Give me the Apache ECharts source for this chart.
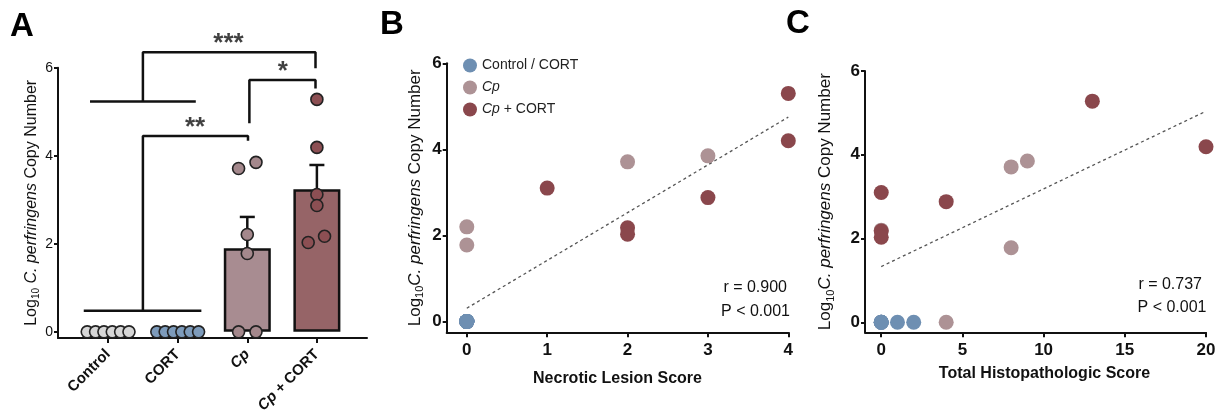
<!DOCTYPE html>
<html>
<head>
<meta charset="utf-8">
<script src="https://cdn.jsdelivr.net/npm/echarts@6/dist/echarts.min.js"></script>
<style>
html,body{margin:0;padding:0;background:#fff;}
#chart{width:1221px;height:414px;}
</style>
</head>
<body>
<div id="chart"></div>
<script>
// ---------- Panel A data ----------
const groupsA = ['Control', 'CORT', 'Cp', 'Cp + CORT'];
const controlA = [0, 0, 0, 0, 0, 0];
const cortA = [0, 0, 0, 0, 0, 0];
const cpA = [3.71, 3.85, 2.21, 1.78, 0, 0];
const cpCortA = [5.28, 4.19, 3.12, 2.87, 2.03, 2.17];
const jitterCtrl = [-0.3, -0.18, -0.06, 0.06, 0.18, 0.3];
const jitterCp = [-0.125, 0.125, 0, 0, -0.125, 0.125];
const jitterCpCort = [0, 0, 0, 0, -0.125, 0.11];
const barMeans = [1.9, 3.24];      // Cp, Cp + CORT
const barUpper = [2.61, 3.79];     // mean + SEM
// significance brackets (data coordinates of panel A)
const brackets = [
  [[-0.35, 0.48], [1.34, 0.48]],
  [[0.5, 0.48], [0.5, 4.45], [2.01, 4.45], [2.01, 4.34]],
  [[-0.26, 5.23], [1.26, 5.23]],
  [[0.5, 5.23], [0.5, 6.35], [2.98, 6.35], [2.98, 5.99]],
  [[2.03, 4.74], [2.03, 5.72], [2.98, 5.72], [2.98, 5.53]]
];
const stars = [['**', 1.25, 4.74], ['***', 1.73, 6.65], ['*', 2.51, 6.02]];

// ---------- Panel B data (Necrotic lesion score) ----------
const lesionCtrl = [0, 0, 0, 0, 0, 0, 0, 0, 0, 0, 0, 0];
const copyCtrlB = [0, 0, 0, 0, 0, 0, 0, 0, 0, 0, 0, 0];
const lesionCp = [0, 0, 2, 3, 0, 0];
const copyCpB = [2.2, 1.78, 3.71, 3.85, 0, 0];
const lesionCpCort = [1, 2, 2, 3, 4, 4];
const copyCpCortB = [3.1, 2.18, 2.03, 2.88, 5.3, 4.2];
const fitB = [[0, 0.31], [4, 4.75]];
const statsB = ['r = 0.900', 'P < 0.001'];

// ---------- Panel C data (Total histopathologic score) ----------
const histoCtrl = [0, 1, 2, 0, 0, 0];
const copyCtrlC = [0, 0, 0, 0, 0, 0];
const histoCp = [0, 0, 8, 9, 8, 4];
const copyCpC = [2.2, 0, 3.71, 3.85, 1.78, 0];
const histoCpCort = [0, 0, 0, 4, 13, 20];
const copyCpCortC = [3.1, 2.18, 2.03, 2.88, 5.28, 4.19];
const fitC = [[0, 1.33], [20, 5.04]];
const statsC = ['r = 0.737', 'P < 0.001'];

const ticksY = [0, 2, 4, 6];
const ticksB = [0, 1, 2, 3, 4];
const ticksC = [0, 5, 10, 15, 20];

// ---------- styling ----------
const FONT = 'Liberation Sans, Arial, Helvetica, sans-serif';
const INK = '#111';
const colA = { ctrl: '#d6d6d6', cort: '#7d9bbb', cp: '#a4888c', cpc: '#8c4f53' };
const barCol = ['#a88c91', '#966467'];
const colBC = { ctrl: '#6e8fb2', cp: '#ad9295', cpc: '#8a474c' };

const zip = (xs, ys) => xs.map((x, i) => [x, ys[i]]);
const jit = (center, offs, ys) => ys.map((y, i) => [center + offs[i], y]);

function yName(space, size) {
  return {
    text: '{a|Log}{s|10}{b|' + (space ? ' ' : '') + 'C. perfringens}{a| Copy Number}',
    rich: {
      a: { fontSize: size, fontFamily: FONT, color: INK, lineHeight: size + 4 },
      b: { fontSize: size, fontFamily: FONT, color: INK, fontStyle: 'italic', lineHeight: size + 4 },
      s: { fontSize: Math.round(size * 0.62), fontFamily: FONT, color: INK, verticalAlign: 'bottom', lineHeight: size + 4, padding: [size * 0.45, 0, 0, 0] }
    }
  };
}

function baseAxis(extra) {
  return Object.assign({
    type: 'value',
    splitLine: { show: false },
    axisLine: { show: true, onZero: false, lineStyle: { color: INK, width: 2 } },
    axisTick: { show: true, length: 5, lineStyle: { color: INK, width: 2 } },
  }, extra);
}

const nmA = yName(true, 16);
const nmB = yName(false, 17);
const nmC = yName(false, 17);

const tickFontBC = { fontSize: 17, fontWeight: 'bold', color: INK, fontFamily: FONT };

const option = {
  animation: false,
  backgroundColor: '#fff',
  textStyle: { fontFamily: FONT },
  grid: [
    { left: 58, top: 67.7, width: 309, height: 270.3, outerBoundsMode: 'none' },
    { left: 446.7, top: 63.3, width: 341.6, height: 269, outerBoundsMode: 'none' },
    { left: 865, top: 71, width: 341, height: 261.3, outerBoundsMode: 'none' }
  ],
  xAxis: [
    baseAxis({
      gridIndex: 0, min: -0.72, max: 3.72,
      axisTick: { show: true, length: 5, customValues: [0, 1, 2, 3], lineStyle: { color: INK, width: 2 } },
      axisLabel: {
        customValues: [0, 1, 2, 3], rotate: 45, margin: 14,
        fontSize: 15, fontWeight: 'bold', color: INK, fontFamily: FONT,
        formatter: v => {
          const g = groupsA[Math.round(v)];
          return g.replace('Cp', '{i|Cp}');
        },
        rich: { i: { fontSize: 15, fontWeight: 'bold', fontStyle: 'italic', color: INK, fontFamily: FONT } }
      }
    }),
    baseAxis({
      gridIndex: 1, min: -0.25, max: 4,
      axisTick: { show: true, length: 5, customValues: ticksB, lineStyle: { color: INK, width: 2 } },
      axisLabel: Object.assign({ customValues: ticksB, margin: 10 }, tickFontBC),
      name: 'Necrotic Lesion Score', nameLocation: 'middle', nameGap: 38,
      nameTextStyle: { fontSize: 16, fontWeight: 'bold', color: INK, fontFamily: FONT }
    }),
    baseAxis({
      gridIndex: 2, min: -1, max: 20,
      axisTick: { show: true, length: 5, customValues: ticksC, lineStyle: { color: INK, width: 2 } },
      axisLabel: Object.assign({ customValues: ticksC, margin: 10 }, tickFontBC),
      name: 'Total Histopathologic Score', nameLocation: 'middle', nameGap: 33,
      nameTextStyle: { fontSize: 16, fontWeight: 'bold', color: INK, fontFamily: FONT, padding: [0, 0, 0, 18] }
    })
  ],
  yAxis: [
    baseAxis({
      gridIndex: 0, min: -0.14, max: 6,
      axisTick: { show: true, length: 4, customValues: ticksY, lineStyle: { color: INK, width: 2 } },
      axisLabel: { customValues: ticksY, margin: 5, fontSize: 14, color: INK, fontFamily: FONT },
      name: nmA.text, nameLocation: 'middle', nameGap: 16,
      nameTextStyle: { rich: nmA.rich, color: INK }
    }),
    baseAxis({
      gridIndex: 1, min: -0.25, max: 6,
      axisTick: { show: true, length: 4, customValues: ticksY, lineStyle: { color: INK, width: 2 } },
      axisLabel: Object.assign({ customValues: ticksY, margin: 5 }, tickFontBC),
      name: nmB.text, nameLocation: 'middle', nameGap: 21,
      nameTextStyle: { rich: nmB.rich, color: INK }
    }),
    baseAxis({
      gridIndex: 2, min: -0.24, max: 6,
      axisTick: { show: true, length: 4, customValues: ticksY, lineStyle: { color: INK, width: 2 } },
      axisLabel: Object.assign({ customValues: ticksY, margin: 5 }, tickFontBC),
      name: nmC.text, nameLocation: 'middle', nameGap: 29,
      nameTextStyle: { rich: nmC.rich, color: INK }
    })
  ],
  legend: {
    orient: 'vertical', left: 463, top: 58.5, padding: 0,
    itemWidth: 14, itemHeight: 14, itemGap: 8, icon: 'circle',
    data: ['Control / CORT', 'Cp', 'Cp + CORT'],
    selectedMode: false,
    formatter: n => n.replace('Cp', '{i|Cp}'),
    textStyle: {
      fontSize: 14, color: '#222', fontFamily: FONT,
      rich: { i: { fontSize: 14, fontStyle: 'italic', color: '#222', fontFamily: FONT } }
    }
  },
  graphic: [
    { type: 'text', x: 10, y: 27, style: { text: 'A', fontSize: 33, fontWeight: 'bold', fontFamily: FONT, fill: '#000', verticalAlign: 'middle' } },
    { type: 'text', x: 380, y: 25, style: { text: 'B', fontSize: 33, fontWeight: 'bold', fontFamily: FONT, fill: '#000', verticalAlign: 'middle' } },
    { type: 'text', x: 786, y: 24, style: { text: 'C', fontSize: 33, fontWeight: 'bold', fontFamily: FONT, fill: '#000', verticalAlign: 'middle' } },
    { type: 'text', x: 787, y: 288, style: { text: statsB[0], fontSize: 16, fontFamily: FONT, fill: INK, align: 'right', verticalAlign: 'middle' } },
    { type: 'text', x: 790, y: 311.5, style: { text: statsB[1], fontSize: 16, fontFamily: FONT, fill: INK, align: 'right', verticalAlign: 'middle' } },
    { type: 'text', x: 1202, y: 285, style: { text: statsC[0], fontSize: 16, fontFamily: FONT, fill: INK, align: 'right', verticalAlign: 'middle' } },
    { type: 'text', x: 1206.5, y: 307.5, style: { text: statsC[1], fontSize: 16, fontFamily: FONT, fill: INK, align: 'right', verticalAlign: 'middle' } }
  ],
  series: []
};

const S = option.series;
// ---- Panel A ----
S.push({
  type: 'bar', name: 'barsA', xAxisIndex: 0, yAxisIndex: 0, barWidth: 47, z: 1, silent: true,
  data: barMeans.map((m, i) => ({ value: [i + 2, m], itemStyle: { color: barCol[i] } })),
  itemStyle: { borderColor: INK, borderWidth: 2.5 }
});
S.push({
  type: 'custom', name: 'semA', xAxisIndex: 0, yAxisIndex: 0, z: 2, silent: true,
  data: barMeans.map((m, i) => [i + 2, m, barUpper[i]]),
  renderItem: (params, api) => {
    const lo = api.coord([api.value(0), api.value(1)]);
    const hi = api.coord([api.value(0), api.value(2)]);
    const w = 7.5;
    const st = { stroke: INK, lineWidth: 2.5 };
    return {
      type: 'group', children: [
        { type: 'line', shape: { x1: lo[0], y1: lo[1], x2: hi[0], y2: hi[1] }, style: st },
        { type: 'line', shape: { x1: hi[0] - w, y1: hi[1], x2: hi[0] + w, y2: hi[1] }, style: st }
      ]
    };
  }
});
const ptA = (name, data, color) => ({
  type: 'scatter', name, xAxisIndex: 0, yAxisIndex: 0, z: 4, symbolSize: 12, clip: false, silent: true,
  itemStyle: { color, borderColor: '#222', borderWidth: 1.6, opacity: 1 }, data
});
S.push(ptA('ctrlA', jit(0, jitterCtrl, controlA), colA.ctrl));
S.push(ptA('cortA', jit(1, jitterCtrl, cortA), colA.cort));
S.push(ptA('cpA', jit(2, jitterCp, cpA), colA.cp));
S.push(ptA('cpcA', jit(3, jitterCpCort, cpCortA), colA.cpc));
brackets.forEach((b, i) => S.push({
  type: 'line', name: 'br' + i, xAxisIndex: 0, yAxisIndex: 0, data: b, clip: false, silent: true,
  symbol: 'none', lineStyle: { color: INK, width: 2.5 }, z: 3
}));
S.push({
  type: 'scatter', name: 'starsA', xAxisIndex: 0, yAxisIndex: 0, clip: false, silent: true,
  symbolSize: 1, itemStyle: { color: 'rgba(0,0,0,0)' },
  data: stars.map(s => ({ name: s[0], value: [s[1], s[2]] })),
  label: { show: true, position: 'inside', formatter: p => p.name, fontSize: 26, fontWeight: 'bold', color: INK, fontFamily: FONT, offset: [0, 5] }
});

// ---- Panels B & C ----
const fit = (xi, data) => ({
  type: 'line', name: 'fit' + xi, xAxisIndex: xi, yAxisIndex: xi, data, silent: true,
  symbol: 'none', lineStyle: { color: '#555', width: 1.3, type: [3, 3] }, z: 1
});
const pt = (xi, name, data, color, z) => ({
  type: 'scatter', name, xAxisIndex: xi, yAxisIndex: xi, symbolSize: 15, clip: false, silent: true,
  itemStyle: { color, opacity: 1 }, data, z
});
S.push(fit(1, fitB));
S.push(pt(1, 'Cp', zip(lesionCp, copyCpB), colBC.cp, 2));
S.push(pt(1, 'Cp + CORT', zip(lesionCpCort, copyCpCortB), colBC.cpc, 3));
S.push(pt(1, 'Control / CORT', zip(lesionCtrl, copyCtrlB), colBC.ctrl, 4));
S.push(fit(2, fitC));
S.push(pt(2, 'Cp', zip(histoCp, copyCpC), colBC.cp, 2));
S.push(pt(2, 'Cp + CORT', zip(histoCpCort, copyCpCortC), colBC.cpc, 3));
S.push(pt(2, 'Control / CORT', zip(histoCtrl, copyCtrlC), colBC.ctrl, 4));

const chart = echarts.init(document.getElementById('chart'), null, { renderer: 'canvas', width: 1221, height: 414 });
chart.setOption(option);
</script>
</body>
</html>
